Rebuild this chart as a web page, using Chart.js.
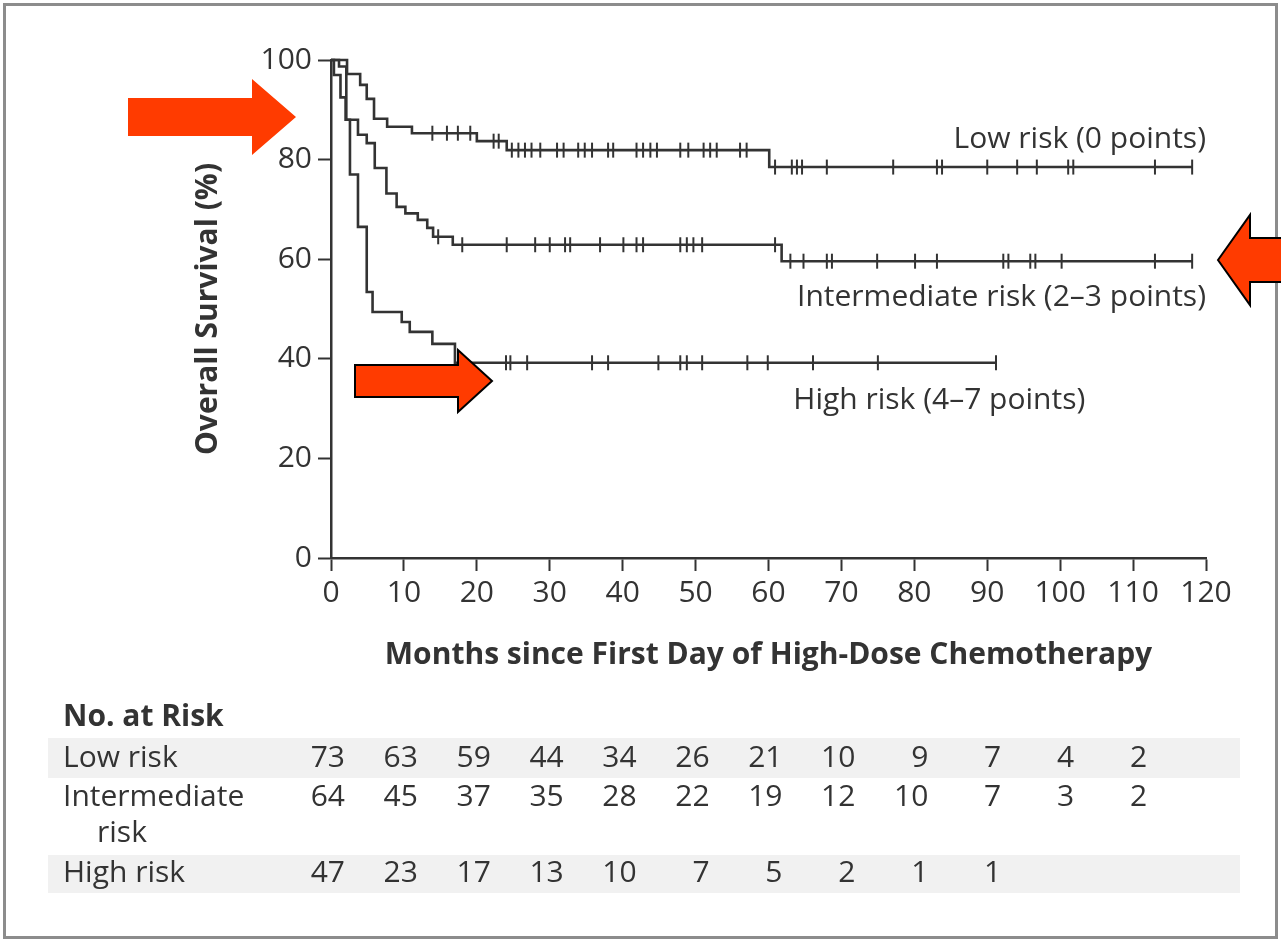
<!DOCTYPE html>
<html lang="en">
<head>
<meta charset="UTF-8">
<title>Overall Survival by Risk Group</title>
<script src="https://cdn.jsdelivr.net/npm/chart.js"></script>
<style>
  html, body { margin: 0; padding: 0; background: #fff; }
  .wrap { position: relative; width: 1281px; height: 943px; }
</style>
</head>
<body>
<div class="wrap"><canvas id="km"></canvas></div>
<script>
// Kaplan-Meier steps: month of each drop and survival (%) after it
const lowTimes  = [0, 2.2, 4.0, 4.9, 5.9, 7.7, 11.1, 20.0, 24.1, 60.1, 118.1];
const lowSurv   = [100, 97.2, 95.0, 92.2, 88.2, 86.6, 85.3, 83.7, 81.9, 78.5, 78.5];
const midTimes  = [0, 1.1, 2.1, 3.7, 4.9, 6.0, 7.6, 9.0, 10.2, 11.9, 13.2, 14.0, 16.7, 61.8, 118.1];
const midSurv   = [100, 98.7, 88.0, 85.0, 83.3, 78.3, 73.2, 70.5, 69.2, 67.9, 66.3, 64.5, 62.9, 59.6, 59.6];
const highTimes = [0, 0.4, 1.3, 2.0, 2.6, 3.7, 4.9, 5.7, 9.7, 10.8, 13.9, 17.0, 91.2];
const highSurv  = [100, 97.0, 92.5, 88.0, 77.0, 66.5, 53.4, 49.4, 47.4, 45.4, 43.0, 39.2, 39.2];

// censored observations (months)
const lowCensored = [13.9, 15.9, 17.4, 19.1, 22.3, 23.0, 24.8, 25.7, 26.6, 27.5, 28.7, 31.0, 31.9,
  33.9, 34.8, 35.8, 38.0, 38.7, 41.9, 42.8, 43.8, 44.7, 47.9, 49.0, 51.1, 52.0, 52.9, 56.1, 57.0,
  60.9, 63.2, 63.9, 64.6, 68.0, 77.1, 83.1, 83.8, 90.0, 94.1, 96.8, 101.1, 101.8, 113.0, 118.1];
const midCensored = [14.7, 18.0, 24.1, 28.0, 30.0, 32.1, 32.8, 36.9, 40.1, 41.9, 42.8, 47.9, 48.8,
  49.7, 50.9, 60.9, 63.0, 64.8, 68.0, 68.7, 74.9, 80.1, 83.1, 92.2, 92.9, 95.9, 96.6, 100.2, 113.0, 118.1];
const highCensored = [24.0, 24.6, 26.9, 35.8, 38.0, 44.9, 47.9, 48.8, 50.9, 57.1, 59.9, 66.1, 75.0, 91.2];

// number at risk table
const riskMonths = [0, 10, 20, 30, 40, 50, 60, 70, 80, 90, 100, 110];
const lowAtRisk  = [73, 63, 59, 44, 34, 26, 21, 10, 9, 7, 4, 2];
const midAtRisk  = [64, 45, 37, 35, 28, 22, 19, 12, 10, 7, 3, 2];
const highAtRisk = [47, 23, 17, 13, 10, 7, 5, 2, 1, 1];

const FONT = '"Open Sans", "Noto Sans", sans-serif';
const INK = '#333';

function steps(times, surv) {
  return times.map((t, i) => ({ x: t, y: surv[i] }));
}
// survival value of a step curve at month t
function survAt(times, surv, t) {
  let s = surv[0];
  for (let i = 0; i < times.length; i++) if (times[i] <= t) s = surv[i];
  return s;
}
function ticks(list, times, surv) {
  return list.map(t => ({ x: t, y: survAt(times, surv, t) }));
}

function curve(data) {
  return { type: 'line', data, stepped: 'before', borderColor: INK, borderWidth: 2.6,
           pointRadius: 0, fill: false, clip: false };
}
function censor(data) {
  return { type: 'scatter', data, pointStyle: 'line', rotation: 90, pointRadius: 7.5,
           borderColor: INK, borderWidth: 2, clip: false };
}

function arrow(ctx, tipX, tipY, dir, headLen, headHalf, shaftLen, shaftHalf, outline) {
  const d = dir; // 1 = points right, -1 = points left
  const hx = tipX - d * headLen, sx = hx - d * shaftLen;
  ctx.beginPath();
  ctx.moveTo(tipX, tipY);
  ctx.lineTo(hx, tipY - headHalf);
  ctx.lineTo(hx, tipY - shaftHalf);
  ctx.lineTo(sx, tipY - shaftHalf);
  ctx.lineTo(sx, tipY + shaftHalf);
  ctx.lineTo(hx, tipY + shaftHalf);
  ctx.lineTo(hx, tipY + headHalf);
  ctx.closePath();
  ctx.fillStyle = '#ff3b00';
  ctx.fill();
  if (outline) { ctx.strokeStyle = '#000'; ctx.lineWidth = 2; ctx.stroke(); }
}

const frame = {
  id: 'frame',
  beforeDraw(chart) {
    const ctx = chart.ctx;
    ctx.save();
    ctx.strokeStyle = '#8c8c8c';
    ctx.lineWidth = 3;
    ctx.strokeRect(4.5, 4.5, 1272, 933);
    // shaded rows of the risk table
    ctx.fillStyle = '#f1f1f1';
    ctx.fillRect(48, 738, 1192, 40);
    ctx.fillRect(48, 855, 1192, 38);
    ctx.restore();
  }
};

const extras = {
  id: 'extras',
  afterDraw(chart) {
    const ctx = chart.ctx, x = chart.scales.x, y = chart.scales.y;
    ctx.save();
    ctx.fillStyle = INK;
    ctx.font = '30px ' + FONT;
    ctx.textBaseline = 'middle';

    // curve labels
    ctx.textAlign = 'right';
    ctx.fillText('Low risk (0 points)', x.getPixelForValue(120), y.getPixelForValue(84));
    ctx.fillText('Intermediate risk (2\u20133 points)', x.getPixelForValue(120), y.getPixelForValue(52.4));
    ctx.textAlign = 'left';
    ctx.fillText('High risk (4\u20137 points)', x.getPixelForValue(63.4), y.getPixelForValue(31.7));

    // number at risk
    ctx.font = 'bold 30px ' + FONT;
    ctx.fillText('No. at Risk', 63, 717);
    ctx.font = '30px ' + FONT;
    const rows = [
      { label: ['Low risk'], vals: lowAtRisk, y: 758 },
      { label: ['Intermediate', 'risk'], vals: midAtRisk, y: 797 },
      { label: ['High risk'], vals: highAtRisk, y: 873 }
    ];
    rows.forEach(r => {
      ctx.textAlign = 'left';
      ctx.fillText(r.label[0], 63, r.y);
      if (r.label[1]) ctx.fillText(r.label[1], 97, r.y + 36);
      ctx.textAlign = 'right';
      r.vals.forEach((v, i) => ctx.fillText(String(v), x.getPixelForValue(riskMonths[i]) + 14, r.y));
    });

    // red arrows
    arrow(ctx, 296, 117, 1, 44, 38, 124, 19, false);
    arrow(ctx, 1218, 260, -1, 32, 45, 40, 22, true);
    arrow(ctx, 492, 381, 1, 34, 31, 103, 16, true);
    ctx.restore();
  }
};

new Chart(document.getElementById('km'), {
  data: {
    datasets: [
      curve(steps(lowTimes, lowSurv)),
      curve(steps(midTimes, midSurv)),
      curve(steps(highTimes, highSurv)),
      censor(ticks(lowCensored, lowTimes, lowSurv)),
      censor(ticks(midCensored, midTimes, midSurv)),
      censor(ticks(highCensored, highTimes, highSurv))
    ]
  },
  options: {
    responsive: true,
    maintainAspectRatio: false,
    animation: false,
    layout: { padding: { left: 190, top: 60, right: 75, bottom: 270 } },
    plugins: { legend: { display: false }, tooltip: { enabled: false } },
    scales: {
      x: {
        type: 'linear', min: 0, max: 120,
        afterFit(s) { s.height = 115; },
        border: { display: true, color: INK, width: 2.5 },
        grid: { drawOnChartArea: false, drawTicks: true, tickLength: 13, tickColor: INK, tickWidth: 2 },
        ticks: { stepSize: 10, color: INK, padding: 4, font: { family: FONT, size: 30 } },
        title: { display: true, text: 'Months since First Day of High-Dose Chemotherapy', color: INK,
                 padding: 0, font: { family: FONT, size: 30, weight: 'bold' } }
      },
      y: {
        min: 0, max: 100,
        afterFit(s) { s.width = 141; },
        border: { display: true, color: INK, width: 2.5 },
        grid: { drawOnChartArea: false, drawTicks: true, tickLength: 13, tickColor: INK, tickWidth: 2 },
        ticks: { stepSize: 20, color: INK, padding: 6, font: { family: FONT, size: 30 } },
        title: { display: true, text: 'Overall Survival (%)', color: INK,
                 padding: 0, font: { family: FONT, size: 30, weight: 'bold' } }
      }
    }
  },
  plugins: [frame, extras]
});
</script>
</body>
</html>
